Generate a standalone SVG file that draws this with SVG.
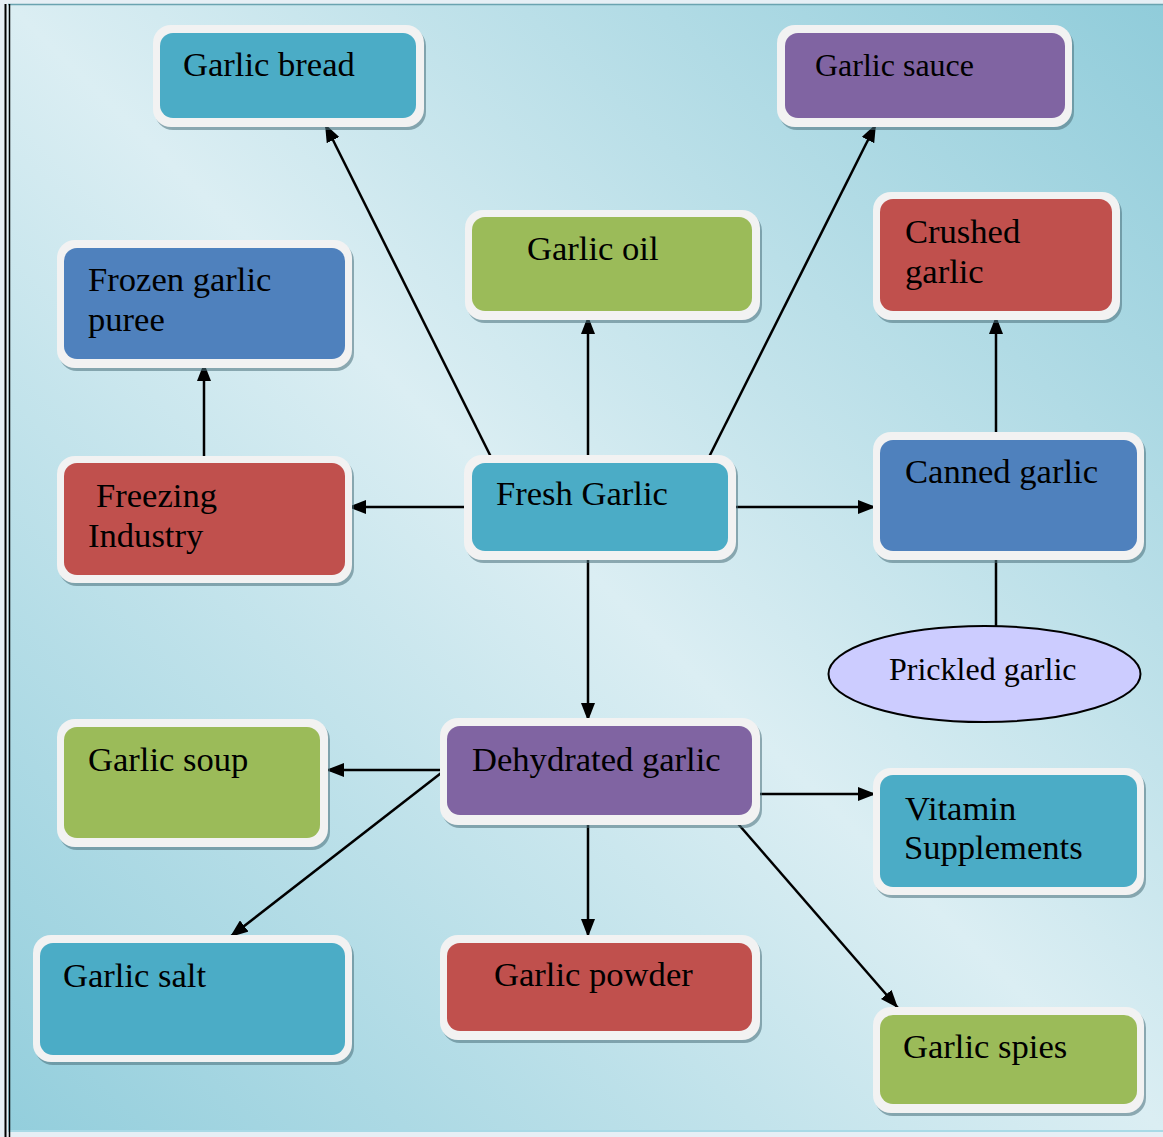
<svg xmlns="http://www.w3.org/2000/svg" width="1163" height="1137" viewBox="0 0 1163 1137">
<style>
.sh{fill:#4a6f7a;opacity:0.55}
.wb{fill:#f2f2f2}
.teal{fill:#4bacc6}.purple{fill:#8064a2}.green{fill:#9bbb59}.red{fill:#c0504d}.blue{fill:#4f81bd}
.t{font-family:"Liberation Serif","Times New Roman",serif;font-size:34.6px;fill:#000}
.tm{font-family:"Liberation Serif","Times New Roman",serif;font-size:32px;fill:#000}
.c line{stroke:#000;stroke-width:2.5}
</style>
<defs>
<linearGradient id="bg" x1="0" y1="1" x2="1" y2="0">
<stop offset="0" stop-color="#93cedc"/>
<stop offset="0.5" stop-color="#dbeef3"/>
<stop offset="1" stop-color="#90ccda"/>
</linearGradient>
<marker id="ah" viewBox="0 0 18 14" refX="18" refY="7" markerWidth="18" markerHeight="14" markerUnits="userSpaceOnUse" orient="auto">
<path d="M0,0 L18,7 L0,14 z" fill="#000"/>
</marker>
</defs>
<rect x="0" y="0" width="1163" height="1137" fill="#e6eff5"/>
<rect x="8" y="4" width="1155" height="1127" fill="url(#bg)"/>
<line x1="8" y1="4.5" x2="1163" y2="4.5" stroke="#6aa3b0" stroke-width="1.5"/>
<line x1="8" y1="1131" x2="1163" y2="1131" stroke="#a8dae6" stroke-width="2"/>
<line x1="5.5" y1="4" x2="5.5" y2="1137" stroke="#000" stroke-width="2"/>
<line x1="9.5" y1="4" x2="9.5" y2="1137" stroke="#000" stroke-width="1.5"/>

<g class="c">
<line x1="492" y1="459" x2="325" y2="124" marker-end="url(#ah)"/>
<line x1="588" y1="459" x2="588" y2="316" marker-end="url(#ah)"/>
<line x1="708" y1="459" x2="876" y2="124" marker-end="url(#ah)"/>
<line x1="468" y1="507" x2="348" y2="507" marker-end="url(#ah)"/>
<line x1="733" y1="507" x2="876" y2="507" marker-end="url(#ah)"/>
<line x1="588" y1="555" x2="588" y2="721" marker-end="url(#ah)"/>
<line x1="204" y1="460" x2="204" y2="363" marker-end="url(#ah)"/>
<line x1="996" y1="436" x2="996" y2="316" marker-end="url(#ah)"/>
<line x1="996" y1="555" x2="996" y2="627"/>
<line x1="445" y1="770" x2="326" y2="770" marker-end="url(#ah)"/>
<line x1="445" y1="770" x2="230" y2="937" marker-end="url(#ah)"/>
<line x1="756" y1="794" x2="876" y2="794" marker-end="url(#ah)"/>
<line x1="588" y1="818" x2="588" y2="937" marker-end="url(#ah)"/>
<line x1="733" y1="818" x2="898" y2="1008" marker-end="url(#ah)"/>
</g>

<g id="garlic-bread">
<rect class="sh" x="155" y="28" width="271" height="102" rx="18"/>
<rect class="wb" x="153" y="25" width="271" height="102" rx="18"/>
<rect class="teal" x="160" y="33" width="256" height="85" rx="13"/>
<text class="t" x="183" y="76">Garlic bread</text>
</g>
<g id="garlic-sauce">
<rect class="sh" x="779" y="28" width="295" height="102" rx="18"/>
<rect class="wb" x="777" y="25" width="295" height="102" rx="18"/>
<rect class="purple" x="785" y="33" width="280" height="85" rx="13"/>
<text class="tm" x="815" y="76">Garlic sauce</text>
</g>
<g id="garlic-oil">
<rect class="sh" x="467" y="213" width="295" height="110" rx="18"/>
<rect class="wb" x="465" y="210" width="295" height="110" rx="18"/>
<rect class="green" x="472" y="217" width="280" height="94" rx="13"/>
<text class="t" x="527" y="260">Garlic oil</text>
</g>
<g id="crushed-garlic">
<rect class="sh" x="875" y="195" width="247" height="128" rx="18"/>
<rect class="wb" x="873" y="192" width="247" height="128" rx="18"/>
<rect class="red" x="880" y="199" width="232" height="112" rx="13"/>
<text class="t" x="905" y="243">Crushed</text>
<text class="t" x="905" y="283">garlic</text>
</g>
<g id="frozen-garlic-puree">
<rect class="sh" x="59" y="243" width="295" height="128" rx="18"/>
<rect class="wb" x="57" y="240" width="295" height="128" rx="18"/>
<rect class="blue" x="64" y="248" width="281" height="111" rx="13"/>
<text class="t" x="88" y="291">Frozen garlic</text>
<text class="t" x="88" y="331">puree</text>
</g>
<g id="freezing-industry">
<rect class="sh" x="59" y="459" width="295" height="127" rx="18"/>
<rect class="wb" x="57" y="456" width="295" height="127" rx="18"/>
<rect class="red" x="64" y="463" width="281" height="112" rx="13"/>
<text class="t" x="96" y="507">Freezing</text>
<text class="t" x="88" y="547">Industry</text>
</g>
<g id="fresh-garlic">
<rect class="sh" x="466" y="458" width="272" height="105" rx="18"/>
<rect class="wb" x="464" y="455" width="272" height="105" rx="18"/>
<rect class="teal" x="472" y="463" width="256" height="88" rx="13"/>
<text class="t" x="496" y="505">Fresh Garlic</text>
</g>
<g id="canned-garlic">
<rect class="sh" x="875" y="435" width="271" height="128" rx="18"/>
<rect class="wb" x="873" y="432" width="271" height="128" rx="18"/>
<rect class="blue" x="880" y="440" width="257" height="111" rx="13"/>
<text class="t" x="905" y="483">Canned garlic</text>
</g>
<g id="prickled-garlic">
<ellipse cx="984.5" cy="674" rx="156" ry="48" fill="#ccccff" stroke="#000" stroke-width="2"/>
<text class="tm" x="889" y="680">Prickled garlic</text>
</g>
<g id="dehydrated-garlic">
<rect class="sh" x="442" y="721" width="320" height="107" rx="18"/>
<rect class="wb" x="440" y="718" width="320" height="107" rx="18"/>
<rect class="purple" x="447" y="726" width="305" height="89" rx="13"/>
<text class="t" x="472" y="771">Dehydrated garlic</text>
</g>
<g id="garlic-soup">
<rect class="sh" x="59" y="722" width="271" height="128" rx="18"/>
<rect class="wb" x="57" y="719" width="271" height="128" rx="18"/>
<rect class="green" x="64" y="727" width="256" height="111" rx="13"/>
<text class="t" x="88" y="771">Garlic soup</text>
</g>
<g id="vitamin-supplements">
<rect class="sh" x="875" y="771" width="271" height="127" rx="18"/>
<rect class="wb" x="873" y="768" width="271" height="127" rx="18"/>
<rect class="teal" x="880" y="775" width="257" height="112" rx="13"/>
<text class="t" x="905" y="820">Vitamin</text>
<text class="t" x="904" y="859">Supplements</text>
</g>
<g id="garlic-salt">
<rect class="sh" x="35" y="938" width="319" height="127" rx="18"/>
<rect class="wb" x="33" y="935" width="319" height="127" rx="18"/>
<rect class="teal" x="40" y="943" width="305" height="112" rx="13"/>
<text class="t" x="63" y="987">Garlic salt</text>
</g>
<g id="garlic-powder">
<rect class="sh" x="442" y="938" width="320" height="105" rx="18"/>
<rect class="wb" x="440" y="935" width="320" height="105" rx="18"/>
<rect class="red" x="447" y="943" width="305" height="88" rx="13"/>
<text class="t" x="494" y="986">Garlic powder</text>
</g>
<g id="garlic-spies">
<rect class="sh" x="875" y="1010" width="271" height="106" rx="18"/>
<rect class="wb" x="873" y="1007" width="271" height="106" rx="18"/>
<rect class="green" x="880" y="1015" width="257" height="89" rx="13"/>
<text class="t" x="903" y="1058">Garlic spies</text>
</g>
</svg>
